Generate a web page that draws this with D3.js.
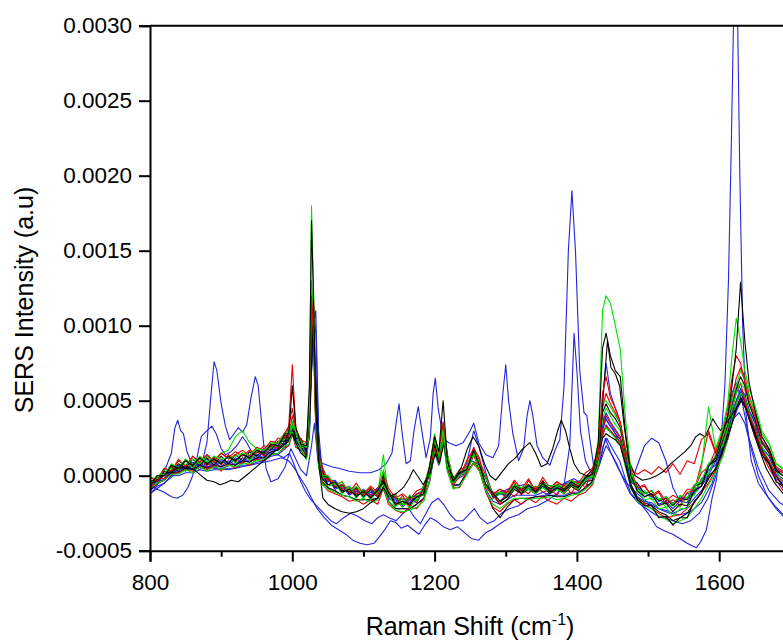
<!DOCTYPE html>
<html>
<head>
<meta charset="utf-8">
<script src="https://cdn.jsdelivr.net/npm/d3@7"></script>
<style>
  html, body { margin: 0; padding: 0; background: #fff; }
  svg { display: block; font-family: "Liberation Sans", Arial, sans-serif; }
</style>
</head>
<body>
<svg id="chart" width="783" height="641"></svg>
<script>
// ---------------- DATA (intensities in units of 1e-5 a.u.) ----------------
const UNIT = 1e-5;
const xTicks = [800, 1000, 1200, 1400, 1600];
const xMinorTicks = [900, 1100, 1300, 1500, 1700];
const yTicks = [-0.0005, 0, 0.0005, 0.0010, 0.0015, 0.0020, 0.0025, 0.0030];

// shared wavenumber grid (cm-1) for the main bundle of spectra
const grid = [
  800,810,820,830,840,850,860,870,880,890,900,910,920,930,940,950,960,970,980,990,
  995,1000,1005,1012,1020,
  1024,1027,1030,1033,1037,1042,
  1050,1060,1070,1080,1090,1100,1110,1120,
  1128,1135,1145,1155,1165,1175,1185,
  1193,1200,1206,1212,1218,1226,
  1235,1245,1255,1263,1272,1282,1292,
  1302,1312,1322,1332,1342,1352,1362,1372,1382,1392,1402,1412,1422,
  1430,1436,1441,1447,1454,1461,1468,1476,1485,
  1495,1505,1515,1525,1535,1545,1555,1565,1575,1585,1595,1605,
  1612,1618,1624,1630,1636,1642,
  1650,1660,1670,1680,1690,1700,1710
];

const red1 = [
  -1,-4,5,3,10,6,13,9,14,9,15,11,14,17,13,19,17,23,22,29,
  33,74,31,24,22,
  45,120,90,35,12,-2,
  -2,-7,-6,-11,-9,-13,-8,-14,
  -2,-10,-20,-13,-21,-12,-11,
  6,25,14,35,9,-6,
  -1,10,18,12,-8,-13,-19,
  -10,-14,-9,-12,-7,-11,-9,-13,-6,-12,-4,-8,4,
  15,55,66,52,45,36,18,4,-8,
  -6,-14,-11,-19,-16,-20,-11,-10,8,30,16,30,
  45,65,80,75,62,50,
  40,23,16,4,2,-8,-8
];
const red2 = [
  -9,-1,-2,7,4,11,5,12,6,13,7,14,9,15,10,17,13,21,18,27,
  26,40,29,19,19,
  35,100,115,45,14,6,
  -3,-5,-9,-8,-12,-10,-14,-9,
  2,-14,-12,-21,-13,-18,-6,
  5,18,10,28,11,-2,
  3,2,14,4,0,-12,-9,
  -12,-4,-13,-3,-11,-3,-10,-4,-12,-3,-10,0,1,
  12,30,40,35,30,25,12,4,1,
  4,1,6,2,8,1,10,8,24,28,15,22,
  32,44,55,62,50,40,
  32,16,10,0,-4,-14,-14
];
const red3 = [
  -9,-5,-3,1,2,4,3,6,4,7,3,8,5,9,7,11,10,14,15,19,
  20,28,19,18,12,
  30,95,85,30,6,-5,
  -10,-12,-14,-17,-16,-19,-16,-19,
  -8,-19,-23,-25,-21,-22,-15,
  -4,18,10,26,4,-8,
  -8,2,8,3,-11,-21,-24,
  -19,-16,-19,-15,-18,-14,-17,-19,-15,-17,-13,-11,-6,
  6,28,33,30,26,22,8,-8,-16,
  -19,-22,-25,-28,-27,-26,-22,-18,-11,-5,4,13,
  24,35,45,52,48,38,
  26,15,5,-3,-10,-15,-19
];
const red4 = [
  -1,-3,5,3,11,6,13,8,14,10,15,12,16,13,17,15,20,19,25,25,
  33,45,30,22,21,
  50,125,105,42,15,1,
  0,-6,-4,-11,-5,-12,-7,-11,
  3,-8,-15,-12,-16,-10,-8,
  7,26,15,36,14,-2,
  4,6,19,10,0,-13,-9,
  -11,-3,-9,-2,-10,-1,-8,-4,-7,-3,-5,2,5,
  18,45,55,48,42,34,18,3,-8,
  -7,-13,-10,-17,-13,-16,-9,-9,2,6,17,25,
  38,52,65,72,66,54,
  42,26,18,6,3,-7,-7
];
const green1 = [
  -7,0,1,8,5,11,7,13,9,13,11,12,13,15,14,18,17,21,22,28,
  28,36,29,21,19,
  45,180,120,40,10,-2,
  -7,-5,-12,-7,-15,-9,-16,-10,
  -6,-12,-21,-15,-22,-13,-13,
  4,24,13,30,7,-5,
  0,3,15,5,-7,-12,-17,
  -14,-8,-11,-9,-12,-8,-11,-9,-12,-6,-9,-3,0,
  22,110,120,115,100,84,40,3,-10,
  -16,-15,-22,-21,-27,-22,-22,-10,5,46,18,32,
  48,80,105,90,70,58,
  47,30,22,8,4,-6,-6
];
const green2 = [
  -6,0,0,5,4,10,5,11,8,10,8,13,8,15,10,16,15,19,20,25,
  24,33,27,19,19,
  38,115,95,38,13,-1,
  -1,-7,-7,-11,-8,-15,-9,-12,
  14,-14,-14,-21,-14,-17,-7,
  5,28,12,30,13,-3,
  2,5,17,7,-1,-14,-12,
  -12,-7,-9,-8,-9,-6,-9,-7,-9,-6,-7,-1,-1,
  14,38,45,40,34,30,15,0,-11,
  -10,-16,-15,-21,-19,-21,-14,-13,-3,1,14,20,
  32,45,55,62,58,47,
  38,22,16,3,0,-9,-9
];
const green3 = [
  -8,-5,-3,1,1,4,2,6,3,6,4,7,6,8,8,10,11,14,15,20,
  21,29,20,18,11,
  32,100,88,32,6,-6,
  -9,-11,-13,-14,-17,-15,-18,-16,
  -8,-17,-23,-24,-23,-21,-17,
  -3,16,8,24,3,-9,
  -7,0,9,3,-10,-19,-22,
  -18,-15,-15,-16,-15,-15,-14,-16,-15,-13,-12,-9,-5,
  7,30,32,29,25,21,6,-8,-17,
  -20,-22,-27,-29,-32,-30,-28,-22,-15,-6,2,13,
  24,38,48,55,52,42,
  31,20,10,3,-4,-9,-13
];
const green4 = [
  -1,-2,5,3,10,7,11,8,13,10,15,17,26,30,22,18,17,22,22,29,
  29,36,30,22,21,
  48,130,105,40,14,0,
  0,-7,-4,-11,-7,-13,-8,-13,
  4,-13,-13,-19,-13,-16,-6,
  6,24,14,34,14,-2,
  3,5,18,8,-1,-13,-11,
  -12,-6,-8,-6,-8,-5,-7,-6,-8,-3,-6,0,1,
  17,48,50,46,40,35,18,-2,-9,
  -12,-10,-16,-14,-19,-13,-15,-6,-4,8,12,26,
  36,50,60,70,64,52,
  44,28,21,8,5,-4,-4
];
const black1 = [
  -7,0,0,7,5,10,7,12,8,11,8,13,10,14,12,17,15,21,20,28,
  28,60,32,21,20,
  60,170,115,45,10,-2,
  -6,-4,-11,-9,-14,-10,-15,-10,
  -3,-11,-19,-17,-19,-14,-12,
  6,26,16,50,10,-4,
  2,4,17,7,-6,-12,-17,
  -14,-7,-12,-6,-11,-5,-11,-8,-10,-6,-8,-1,1,
  22,85,95,80,70,66,30,0,-10,
  -14,-12,-20,-18,-24,-19,-20,-10,-7,6,12,28,
  40,60,85,129,90,62,
  44,26,18,4,0,-10,-11
];
const black2 = [
  -10,-5,-3,2,2,5,4,7,5,7,6,8,7,10,9,12,12,16,17,21,
  23,32,22,20,13,
  42,120,95,35,8,-4,
  -8,-10,-13,-14,-16,-16,-16,-15,
  -7,-17,-22,-22,-22,-19,-15,
  -3,20,10,30,5,-6,
  -6,2,9,4,-10,-22,-28,
  -21,-16,-15,-15,-14,-14,-13,-14,-14,-12,-12,-8,-4,
  8,30,32,29,26,22,8,-6,-15,
  -18,-20,-24,-26,-30,-28,-25,-18,-11,-2,5,16,
  28,38,48,55,50,40,
  28,17,8,0,-7,-12,-16
];
const black3 = [
  -6,0,0,6,3,10,6,11,7,12,8,13,9,15,11,16,14,20,19,26,
  25,33,28,20,19,
  38,110,100,38,9,3,
  -6,-5,-10,-9,-13,-11,-14,-10,
  -5,-12,-20,-17,-20,-14,-13,
  3,21,11,31,7,-5,
  0,3,15,5,-7,-13,-19,
  -16,-9,-12,-9,-12,-7,-12,-9,-12,-7,-10,-4,-3,
  12,25,28,26,24,20,8,-8,-16,
  -20,-20,-28,-27,-33,-28,-28,-17,-12,0,4,18,
  25,35,45,52,47,38,
  30,14,8,-4,-7,-16,-16
];
const black4 = [
  -3,-4,3,2,8,5,11,7,12,7,13,8,14,10,16,13,18,17,23,23,
  30,36,25,25,16,
  44,115,105,42,15,0,
  -1,-8,-6,-12,-8,-14,-9,-13,
  1,-14,-14,-19,-14,-16,-7,
  5,23,13,33,13,-3,
  2,5,17,7,-1,-14,-11,
  -12,-6,-9,-6,-9,-4,-9,-6,-9,-4,-7,-1,0,
  16,42,48,42,38,32,16,-2,-5,
  -12,-10,-17,-15,-20,-15,-16,-7,-5,7,10,24,
  34,48,58,66,60,48,
  38,22,15,3,0,-9,-9
];
const blue1 = [
  -10,-3,-3,4,2,7,4,9,5,9,6,10,7,12,9,14,12,18,17,24,
  23,31,26,18,18,
  25,70,100,110,30,3,
  -4,-3,-9,-7,-12,-9,-13,-8,
  -6,-10,-18,-15,-18,-12,-11,
  2,19,10,28,6,-5,
  0,3,14,5,-7,-12,-17,
  -13,-7,-10,-7,-10,-5,-10,-6,-9,-4,-7,-1,-1,
  17,50,75,55,45,35,16,-2,-5,
  -12,-10,-16,-14,-19,-14,-15,-6,-4,8,12,27,
  40,55,62,58,50,40,
  32,16,10,-2,-5,-14,-14
];
const blue2 = [
  -4,-5,2,1,7,4,9,6,11,6,11,8,12,9,14,11,17,15,22,21,
  28,32,23,23,15,
  38,105,95,40,14,0,
  -1,-8,-6,-12,-9,-14,-10,-13,
  -1,-15,-15,-20,-15,-17,-8,
  3,20,11,30,11,-4,
  1,4,15,6,-2,-15,-12,
  -13,-7,-10,-7,-10,-5,-10,-7,-10,-5,-8,-2,-2,
  13,33,42,36,31,26,13,-4,-7,
  -14,-12,-19,-17,-22,-17,-18,-9,-7,4,7,21,
  28,40,50,58,54,44,
  35,19,13,1,-2,-11,-11
];
const blue3 = [
  -5,-6,1,0,6,3,7,4,9,5,10,7,11,8,14,11,16,14,20,19,
  26,30,25,17,17,
  30,90,108,60,17,1,
  -2,-9,-7,-13,-10,-14,-11,-14,
  -3,-16,-16,-21,-16,-18,-9,
  1,18,9,27,9,-6,
  0,8,30,18,2,-14,-12,
  -14,-8,-11,-8,-11,-6,-11,-8,-11,-6,-9,-3,-3,
  12,30,38,33,28,24,12,-5,7,
  20,25,22,10,-8,-17,-12,-12,-2,1,13,19,
  30,42,50,56,52,43,
  37,23,17,5,2,-7,-7
];
const blue4 = [
  -12,-7,-5,0,0,2,2,4,3,4,4,5,5,7,7,9,10,13,14,18,
  20,28,19,17,11,
  28,80,112,95,23,2,
  -8,-10,-13,-14,-16,-16,-16,-15,
  -9,-17,-22,-22,-22,-19,-15,
  -4,15,7,24,3,-7,
  -6,2,8,4,-9,-17,-19,
  -16,-13,-13,-13,-13,-11,-13,-13,-13,-11,-11,-8,-5,
  6,26,34,30,26,22,8,-6,-14,
  -17,-18,-22,-23,-25,-23,-21,-15,-10,-2,5,16,
  28,38,45,50,48,40,
  28,18,8,0,-8,-12,-17
];

// outlying spectra, as [wavenumber, intensity] pairs
const bluePeaks = [[800,-8],[812,-2],[822,5],[830,15],[835,32],[839,37],[843,30],[847,28],[852,16],[858,9],[866,7],[874,10],[880,22],[885,50],[890,76],[894,70],[900,48],[906,33],[912,24],[918,28],[924,32],[930,29],[936,34],[942,52],[948,66],[952,60],[957,35],[963,5],[970,-4],[980,-2],[990,6],[998,18],[1004,12],[1012,4],[1020,0],[1027,20],[1031,35],[1036,10],[1044,8],[1055,6],[1065,5],[1080,3],[1095,2],[1110,2],[1122,4],[1132,8],[1140,15],[1146,35],[1150,48],[1154,30],[1160,8],[1166,10],[1171,30],[1177,46],[1182,30],[1188,12],[1194,25],[1198,55],[1201,65],[1205,45],[1212,25],[1220,22],[1230,20],[1240,22],[1250,30],[1255,35],[1262,22],[1272,14],[1282,12],[1290,20],[1296,55],[1300,74],[1304,50],[1310,28],[1318,10],[1325,18],[1330,40],[1334,50],[1338,40],[1344,20],[1352,12],[1362,7],[1370,18],[1376,24],[1382,60],[1388,150],[1393,190],[1398,150],[1404,70],[1410,42],[1414,40],[1418,25],[1424,5],[1432,8],[1440,25],[1448,15],[1458,5],[1470,-5],[1485,-12],[1500,-18],[1515,-22],[1530,-25],[1545,-26],[1560,-24],[1575,-18],[1590,-5],[1600,10],[1610,25],[1618,45],[1625,60],[1632,50],[1642,25],[1655,5],[1670,-10],[1685,-18],[1700,-22]];
const blueDeep = [[800,-10],[815,-4],[830,2],[850,6],[870,7],[890,5],[910,4],[930,6],[950,8],[970,10],[985,12],[995,10],[1003,5],[1012,-2],[1020,-8],[1027,-15],[1035,-22],[1045,-28],[1055,-33],[1065,-36],[1075,-39],[1085,-43],[1095,-45],[1105,-46],[1115,-45],[1122,-41],[1130,-36],[1138,-30],[1145,-31],[1153,-35],[1162,-33],[1170,-36],[1178,-39],[1186,-33],[1194,-28],[1202,-30],[1212,-34],[1222,-36],[1232,-34],[1242,-38],[1252,-42],[1262,-43],[1272,-38],[1280,-36],[1292,-32],[1305,-28],[1318,-26],[1330,-22],[1345,-20],[1360,-16],[1372,-12],[1382,-6],[1390,20],[1396,95],[1400,70],[1405,30],[1412,10],[1420,2],[1430,5],[1437,20],[1442,25],[1450,18],[1460,10],[1468,-2],[1476,-12],[1488,-18],[1500,-25],[1512,-34],[1524,-37],[1535,-39],[1545,-42],[1555,-45],[1563,-47],[1568,-48],[1574,-44],[1582,-36],[1590,-15],[1596,-3],[1602,20],[1608,60],[1613,130],[1617,220],[1620,300],[1623,330],[1626,300],[1629,200],[1633,100],[1638,40],[1645,10],[1655,-5],[1665,-12],[1678,-20],[1690,-26],[1700,-30]];
const blueLow = [[800,-12],[820,-5],[840,3],[860,5],[880,6],[900,5],[920,8],[940,10],[960,12],[975,15],[988,12],[996,15],[1002,8],[1010,-2],[1018,-10],[1026,-16],[1034,-20],[1044,-25],[1054,-30],[1062,-32],[1072,-28],[1082,-25],[1092,-27],[1102,-30],[1112,-32],[1120,-28],[1128,-26],[1136,-28],[1146,-30],[1156,-25],[1164,-22],[1172,-28],[1180,-32],[1188,-25],[1196,-18],[1205,-15],[1214,-20],[1222,-26],[1230,-30],[1240,-30],[1248,-26],[1256,-22],[1264,-28],[1274,-32],[1284,-30],[1294,-25],[1305,-22],[1318,-20],[1330,-16],[1342,-14],[1355,-13],[1366,-10],[1376,-8],[1386,-4],[1396,-2],[1406,-5],[1418,-6],[1428,2],[1435,12],[1441,20],[1448,15],[1456,8],[1465,-2],[1475,-12],[1486,-18],[1498,-22],[1510,-26],[1522,-28],[1535,-30],[1548,-32],[1560,-30],[1572,-25],[1584,-15],[1594,-2],[1603,12],[1612,25],[1620,38],[1628,42],[1636,35],[1645,18],[1655,0],[1668,-14],[1680,-22],[1692,-28],[1705,-32]];
const blueDip = [[800,-6],[810,-9],[820,-11],[830,-14],[838,-15],[846,-13],[853,-8],[860,0],[866,12],[872,26],[880,30],[887,33],[893,28],[900,18],[906,14],[914,16],[922,20],[930,26],[936,22],[944,15],[952,13],[960,16],[970,20],[980,22],[990,25],[996,28],[1000,30],[1006,24],[1014,20],[1020,18],[1026,60],[1030,95],[1034,60],[1038,15],[1045,0],[1055,-5],[1070,-8],[1085,-10],[1100,-12],[1115,-11],[1128,-5],[1140,-14],[1155,-16],[1170,-14],[1185,-9],[1195,5],[1201,20],[1207,12],[1212,28],[1218,8],[1228,-3],[1240,0],[1252,10],[1260,8],[1272,-6],[1284,-12],[1298,-10],[1312,-7],[1326,-6],[1340,-8],[1355,-6],[1370,-7],[1385,-5],[1400,-4],[1414,-2],[1424,3],[1432,15],[1438,40],[1444,35],[1452,30],[1460,22],[1468,8],[1478,-5],[1490,-10],[1505,-14],[1520,-17],[1535,-18],[1550,-16],[1565,-12],[1578,-5],[1590,5],[1600,14],[1610,24],[1618,35],[1626,45],[1633,52],[1640,45],[1648,34],[1658,22],[1668,10],[1680,0],[1692,-8],[1705,-14]];
const blackBumps = [[800,-6],[812,-2],[825,2],[840,5],[852,6],[862,4],[872,0],[880,-3],[890,-4],[898,-6],[905,-5],[914,-3],[924,-4],[932,-1],[940,2],[950,6],[960,10],[970,14],[980,18],[990,22],[996,25],[1000,28],[1005,22],[1012,15],[1019,12],[1025,45],[1029,100],[1033,60],[1038,5],[1043,-15],[1050,-19],[1060,-22],[1070,-24],[1080,-25],[1090,-24],[1100,-22],[1110,-18],[1120,-15],[1128,-8],[1136,-14],[1146,-12],[1156,-8],[1164,-2],[1170,4],[1176,0],[1184,-6],[1194,2],[1201,15],[1207,8],[1213,22],[1219,5],[1228,-2],[1238,6],[1246,18],[1254,26],[1262,20],[1270,8],[1278,0],[1286,-3],[1294,2],[1304,8],[1314,12],[1324,18],[1334,22],[1342,15],[1350,6],[1358,8],[1366,18],[1373,30],[1378,37],[1384,30],[1390,18],[1396,8],[1404,2],[1414,0],[1424,5],[1432,20],[1438,60],[1443,90],[1448,72],[1454,68],[1460,60],[1466,35],[1473,10],[1482,0],[1492,-3],[1502,-2],[1512,0],[1522,3],[1532,8],[1542,12],[1552,16],[1560,20],[1567,26],[1573,28],[1580,26],[1586,32],[1591,38],[1596,34],[1602,30],[1610,35],[1617,40],[1624,45],[1631,50],[1638,44],[1646,32],[1656,18],[1666,5],[1678,-5],[1690,-12],[1702,-18]];

// ---------------- CHART ----------------
const COLORS = { blue: "#2424dc", black: "#000000", red: "#e60000", green: "#00e000" };
const onGrid = vals => grid.slice(0, vals.length).map((g, i) => [g, vals[i]]);

const series = [
  { c: "blue", pts: bluePeaks },
  { c: "blue", pts: blueDeep },
  { c: "blue", pts: blueLow },
  { c: "blue", pts: blueDip },
  { c: "blue", pts: onGrid(blue1) },
  { c: "blue", pts: onGrid(blue2) },
  { c: "blue", pts: onGrid(blue3) },
  { c: "blue", pts: onGrid(blue4) },
  { c: "black", pts: onGrid(black2) },
  { c: "red", pts: onGrid(red3) },
  { c: "green", pts: onGrid(green3) },
  { c: "black", pts: onGrid(black3) },
  { c: "red", pts: onGrid(red2) },
  { c: "green", pts: onGrid(green2) },
  { c: "black", pts: onGrid(black4) },
  { c: "red", pts: onGrid(red4) },
  { c: "green", pts: onGrid(green4) },
  { c: "black", pts: blackBumps },
  { c: "red", pts: onGrid(red1) },
  { c: "green", pts: onGrid(green1) },
  { c: "black", pts: onGrid(black1) }
];

const svg = d3.select("#chart");
const L = 150, T = 25.7, B = 550.7, R = 790.35;
const x = d3.scaleLinear().domain([800, 1700]).range([L, R]);
const y = d3.scaleLinear().domain([-0.0005, 0.0030]).range([B, T]);

svg.append("defs").append("clipPath").attr("id", "plotclip")
  .append("rect").attr("x", L).attr("y", T).attr("width", R - L).attr("height", B - T);

const line = d3.line().x(d => x(d[0])).y(d => y(d[1] * UNIT));

svg.append("g").attr("clip-path", "url(#plotclip)")
  .selectAll("path").data(series).join("path")
  .attr("d", d => line(d.pts))
  .attr("fill", "none")
  .attr("stroke", d => COLORS[d.c])
  .attr("stroke-width", 1.1)
  .attr("stroke-linejoin", "round");

// frame (top and right)
svg.append("line").attr("x1", L).attr("x2", R).attr("y1", T).attr("y2", T)
  .attr("stroke", "#000").attr("stroke-width", 2);
svg.append("line").attr("x1", R).attr("x2", R).attr("y1", T).attr("y2", B)
  .attr("stroke", "#000").attr("stroke-width", 2);

// axes
const fontSize = 22.5;
const titleSize = 25;
const xAxis = svg.append("g").attr("transform", `translate(0,${B})`)
  .call(d3.axisBottom(x).tickValues(xTicks).tickSize(11).tickPadding(12).tickFormat(d3.format("d")));
const xMinor = svg.append("g").attr("transform", `translate(0,${B})`)
  .call(d3.axisBottom(x).tickValues(xMinorTicks).tickSize(6).tickFormat(""));
const yAxis = svg.append("g").attr("transform", `translate(${L},0)`)
  .call(d3.axisLeft(y).tickValues(yTicks).tickSize(11).tickPadding(7).tickFormat(v => v.toFixed(4)));

[xAxis, xMinor, yAxis].forEach(g => {
  g.select(".domain").attr("stroke", "#000").attr("stroke-width", 2);
  g.selectAll(".tick line").attr("stroke", "#000").attr("stroke-width", 2);
  g.selectAll(".tick text").attr("fill", "#000").attr("font-size", fontSize)
    .attr("font-family", "'Liberation Sans', Arial, sans-serif");
});
xMinor.select(".domain").remove();

// axis titles
const xt = svg.append("text").attr("x", 470).attr("y", 635).attr("text-anchor", "middle")
  .attr("font-size", titleSize).attr("fill", "#000");
xt.append("tspan").text("Raman Shift (cm");
xt.append("tspan").attr("font-size", 16).attr("dy", -10).text("-1");
xt.append("tspan").attr("dy", 10).text(")");

svg.append("text").attr("transform", "translate(33,300) rotate(-90)")
  .attr("text-anchor", "middle").attr("font-size", titleSize).attr("fill", "#000")
  .text("SERS Intensity (a.u)");
</script>
</body>
</html>
